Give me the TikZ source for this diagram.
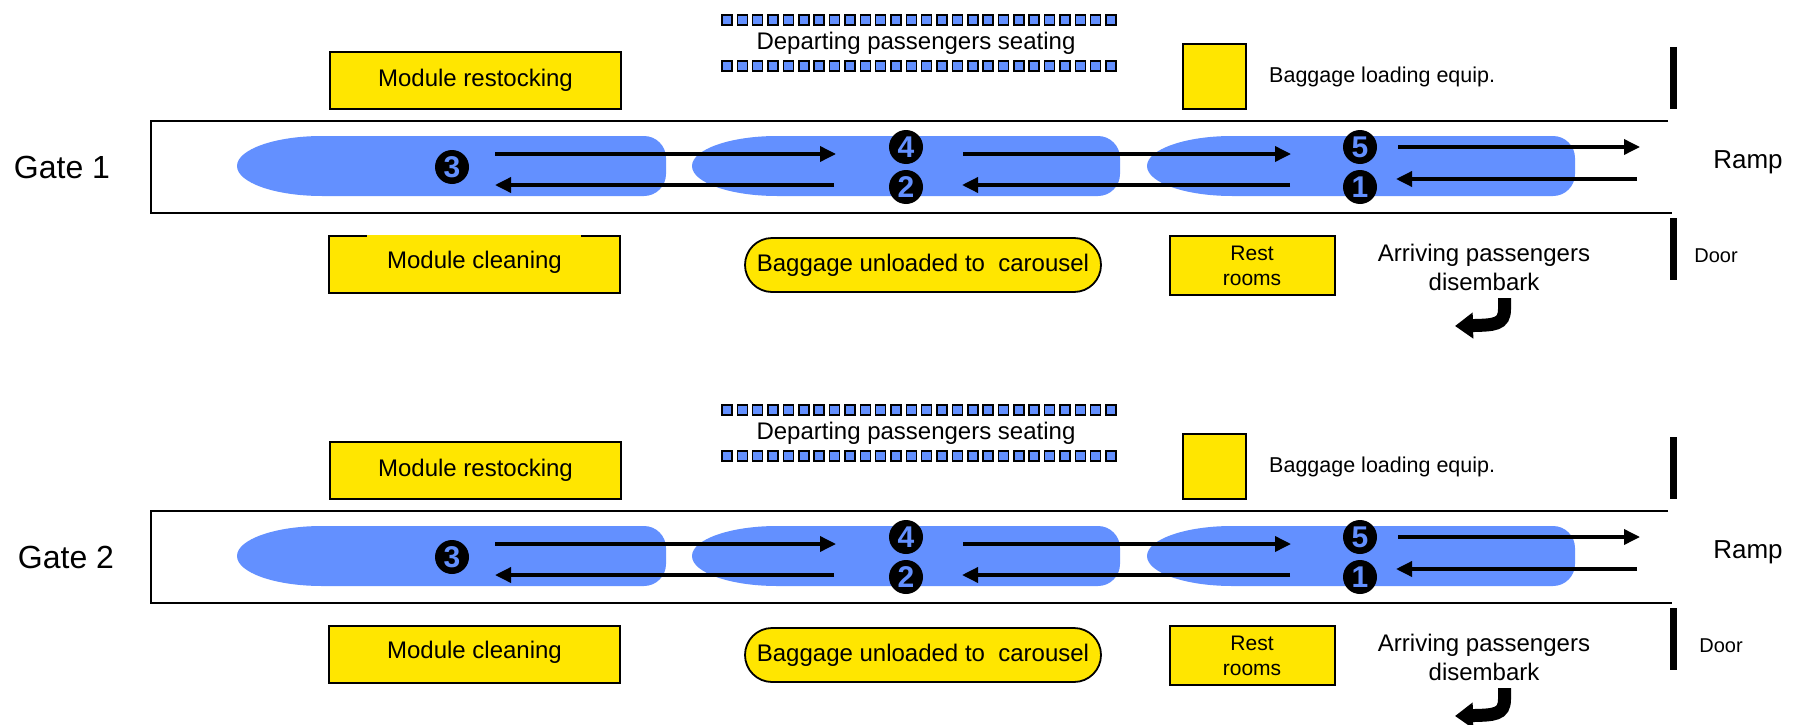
\documentclass[tikz,border=0pt]{standalone}
\usepackage{fontspec}
\setmainfont{Liberation Sans}
\usetikzlibrary{arrows.meta}
\definecolor{shp}{RGB}{99,144,255}
\definecolor{ylw}{RGB}{255,230,0}
\tikzset{
  gateline/.style={draw=black, line width=2pt},
  ybox/.style={draw=black, line width=1.8pt, fill=ylw, inner sep=0pt, align=center},
  seat/.style={draw=black, line width=1.5pt, fill=shp, minimum size=10pt, inner sep=0pt},
  num/.style={circle, fill=black, minimum size=34pt, inner sep=0pt, text=shp, font=\fontsize{30}{30}\selectfont\bfseries},
  flow/.style={line width=3.5pt, -{Triangle[length=16pt,width=15pt]}},
  bar/.style={line width=7pt},
  bendarrow/.style={line width=13pt, -{Triangle[length=18pt,width=25pt]}},
  txt/.style={inner sep=0pt, align=center},
}
\begin{document}
\begin{tikzpicture}[x=1pt,y=-1pt]
\path[use as bounding box, fill=white] (0,0) rectangle (1806,725);
\foreach \g/\dy/\gx/\dx in {1/0/62/1716, 2/390/66/1721} {
\begin{scope}[shift={(0,\dy)}]
  % gate outline
  \draw[gateline] (1668,121) -- (151,121) -- (151,213) -- (1672,213);
  % modules (blue shapes)
  \foreach \xa/\xb in {237/666, 692/1120, 1147/1575} {
    \fill[shp] (\xa+85,136) arc[start angle=270,end angle=90,x radius=85,y radius=30]
      -- (\xb-22,196) arc[start angle=90,end angle=0,radius=22]
      -- (\xb,158) arc[start angle=0,end angle=-90,radius=22] -- cycle;
  }
  % label
  \node[txt, font=\fontsize{32}{32}\selectfont] (gate\g) at (\gx,167) {Gate \g};
  % yellow boxes
  \node[ybox, minimum width=291pt, minimum height=57pt, font=\fontsize{24}{24}\selectfont] (restock\g) at (475.5,80.5) {Module restocking};
  \node[ybox, minimum width=291pt, minimum height=57pt] (clean\g) at (474.5,264.5) {};
  \node[ybox, minimum width=63pt, minimum height=65pt] (bagload\g) at (1214.5,76.5) {};
  \node[ybox, minimum width=356pt, minimum height=54pt, rounded corners=27pt, font=\fontsize{24}{24}\selectfont] (unload\g) at (923,265) {Baggage unloaded to\ \ carousel};
  \node[ybox, minimum width=165pt, minimum height=59pt] (rest\g) at (1252.5,265.5) {};
  \node[txt, font=\fontsize{24}{24}\selectfont] (cleantxt\g) at (474.5,262) {Module cleaning};
  \node[txt, font=\fontsize{21}{25}\selectfont] (resttxt\g) at (1252,266) {Rest\\rooms};
  % seating rows
  \foreach \i in {0,...,25} {
    \node[seat] (sa\g-\i) at (727+\i*15.36,20) {};
    \node[seat] (sb\g-\i) at (727+\i*15.36,66) {};
  }
  \node[txt, font=\fontsize{24}{24}\selectfont] (seating\g) at (916,43) {Departing passengers seating};
  \node[txt, anchor=west, font=\fontsize{21.5}{21.5}\selectfont] (bagtxt\g) at (1269,77) {Baggage loading equip.};
  % ramp / door bars
  \coordinate (bt\g) at (1673,47); \coordinate (bb\g) at (1673,109);
  \coordinate (dt\g) at (1673,218); \coordinate (db\g) at (1673,280);
  \draw[bar] (bt\g) -- (bb\g);
  \draw[bar] (dt\g) -- (db\g);
  \node[txt, font=\fontsize{26}{26}\selectfont] (ramp\g) at (1748,162) {Ramp};
  \node[txt, font=\fontsize{20}{20}\selectfont] (door\g) at (\dx,256) {Door};
  \node[txt, font=\fontsize{24}{29}\selectfont] (arrive\g) at (1484,267) {Arriving passengers\\disembark};
  % numbered stops
  \node[num] (n3-\g) at (452,167) {3};
  \node[num] (n4-\g) at (906,147) {4};
  \node[num] (n2-\g) at (906,187) {2};
  \node[num] (n5-\g) at (1360,147) {5};
  \node[num] (n1-\g) at (1360,187) {1};
  % flow arrows
  \coordinate (a\g s) at (495,154);  \coordinate (a\g e) at (836,154);
  \coordinate (b\g s) at (834,185);  \coordinate (b\g e) at (495,185);
  \coordinate (c\g s) at (963,154);  \coordinate (c\g e) at (1291,154);
  \coordinate (d\g s) at (1290,185); \coordinate (d\g e) at (962,185);
  \coordinate (e\g s) at (1398,147); \coordinate (e\g e) at (1640,147);
  \coordinate (f\g s) at (1637,179); \coordinate (f\g e) at (1396,179);
  \draw[flow] (a\g s) -- (a\g e);
  \draw[flow] (b\g s) -- (b\g e);
  \draw[flow] (c\g s) -- (c\g e);
  \draw[flow] (d\g s) -- (d\g e);
  \draw[flow] (e\g s) -- (e\g e);
  \draw[flow] (f\g s) -- (f\g e);
  % disembark bent arrow
  \coordinate (ks\g) at (1504.5,298);
  \coordinate (km\g) at (1504.5,309);
  \coordinate (kt\g) at (1455,326);
  \draw[bendarrow] (ks\g) -- (km\g) .. controls (1504.5,325) and (1494,325) .. (kt\g);
\end{scope}
}
% gap in the top border of the first cleaning box
\fill[ylw] (367,234.8) rectangle (581,237.4);
\end{tikzpicture}
\end{document}
